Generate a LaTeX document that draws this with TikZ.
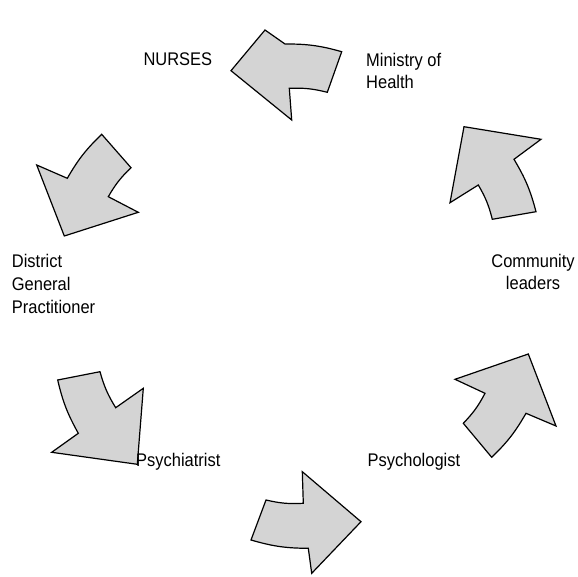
\documentclass[tikz,border=0pt]{standalone}
\usepackage{fontspec}
\setmainfont{Liberation Sans}[FakeStretch=0.9]
\definecolor{arrowgray}{RGB}{212,212,212}
\begin{document}
\begin{tikzpicture}[x=1pt,y=1pt,
  blockarrow/.style={fill=arrowgray, draw=black, line width=1.2pt, line join=miter},
  lbl/.style={inner sep=0pt, font=\fontsize{18.3}{22.8}\selectfont}]
\useasboundingbox[fill=white] (0,0) rectangle (578,-577);
% arrow 1 (top, pointing left)
\draw[blockarrow] (231,-70.7) -- (265,-30) -- (285,-44) to[bend left=8] (341.7,-51.7) -- (327.3,-92.3) to[bend right=8] (289.3,-88.3) -- (291.7,-120) -- cycle;
% arrow 2 (upper left)
\draw[blockarrow] (64.3,-236) -- (36.7,-165) -- (67.3,-178.3) to[bend left=8] (101.7,-134.3) -- (131,-167.7) to[bend right=8] (108.3,-196.7) -- (138.3,-212.3) -- cycle;
% arrow 3 (lower left)
\draw[blockarrow] (137.3,-464.3) -- (51.7,-452.3) -- (78.3,-433.3) to[bend left=8] (57.7,-380) -- (100,-371.7) to[bend right=8] (115.7,-407.7) -- (143.3,-388.3) -- cycle;
% arrow 4 (bottom)
\draw[blockarrow] (361,-521.7) -- (311.7,-573.3) -- (308.3,-548.3) to[bend left=8] (251,-540) -- (266,-500) to[bend right=8] (303.3,-503.3) -- (302.3,-471.7) -- cycle;
% arrow 5 (lower right)
\draw[blockarrow] (528.3,-354) -- (556,-426) -- (526,-413.3) to[bend left=8] (491.7,-457.3) -- (463.3,-423.3) to[bend right=8] (485,-393.3) -- (455,-379.3) -- cycle;
% arrow 6 (upper right)
\draw[blockarrow] (464,-126.7) -- (541,-139.3) -- (514,-159.3) to[bend left=8] (536,-211.7) -- (492.3,-219.3) to[bend right=8] (478.3,-185) -- (450,-202.7) -- cycle;
% labels (base anchor = baseline of last line)
\node[lbl, anchor=base west] (nurses) at (143.3,-66) {NURSES};
\node[lbl, anchor=base west, align=left] (ministry) at (366,-89) {Ministry of\\Health};
\node[lbl, anchor=base west, align=left] (district) at (11.7,-313) {District\\General\\Practitioner};
\node[lbl, anchor=base, align=center] (community) at (533,-290) {Community\\leaders};
\node[lbl, anchor=base west] (psychiatrist) at (136,-466) {Psychiatrist};
\node[lbl, anchor=base west] (psychologist) at (367.5,-466) {Psychologist};
\end{tikzpicture}
\end{document}
